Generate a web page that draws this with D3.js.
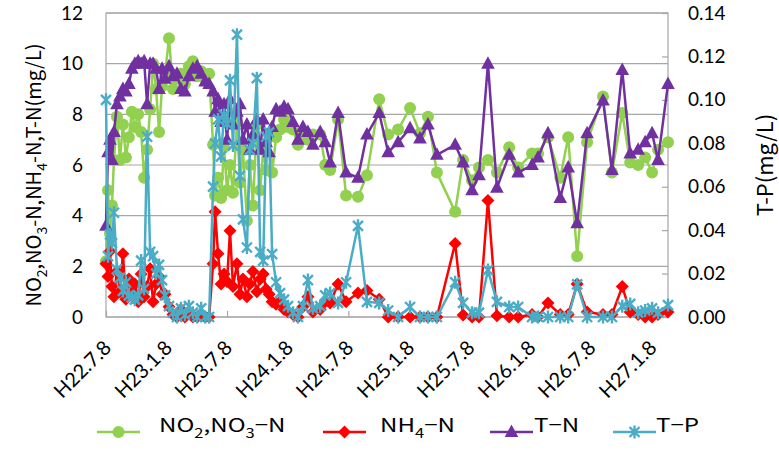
<!DOCTYPE html>
<html>
<head>
<meta charset="utf-8">
<script src="https://cdn.jsdelivr.net/npm/d3@7"></script>
<style>
  body { margin: 0; background: #fff; }
  svg { display: block; }
</style>
</head>
<body>
<div id="chart"></div>
<script>
// sampling dates (H22.7.8 .. H27.2)
const dates = [
  '2010-07-08', '2010-07-14', '2010-07-20', '2010-07-26', '2010-08-01', '2010-08-10', '2010-08-19', '2010-08-28',
  '2010-09-06', '2010-09-15', '2010-09-24', '2010-10-03', '2010-10-13', '2010-10-22', '2010-10-31', '2010-11-09',
  '2010-11-18', '2010-11-27', '2010-12-06', '2010-12-15', '2010-12-24', '2011-01-02', '2011-01-14', '2011-01-26',
  '2011-02-07', '2011-02-19', '2011-03-03', '2011-03-15', '2011-03-27', '2011-04-09', '2011-04-21', '2011-05-03',
  '2011-05-15', '2011-05-27', '2011-06-02', '2011-06-11', '2011-06-20', '2011-06-29', '2011-07-08', '2011-07-17',
  '2011-07-26', '2011-08-07', '2011-08-16', '2011-08-25', '2011-09-06', '2011-09-15', '2011-09-24', '2011-10-06',
  '2011-10-16', '2011-10-25', '2011-11-03', '2011-11-12', '2011-11-21', '2011-12-03', '2011-12-15', '2011-12-27',
  '2012-01-08', '2012-01-23', '2012-02-07', '2012-02-22', '2012-03-08', '2012-03-23', '2012-04-14', '2012-04-29',
  '2012-05-14', '2012-06-07', '2012-07-01', '2012-08-06', '2012-09-02', '2012-10-09', '2012-11-05', '2012-12-05',
  '2013-01-10', '2013-02-09', '2013-03-05', '2013-04-01', '2013-05-26', '2013-06-19', '2013-07-16', '2013-08-06',
  '2013-09-02', '2013-09-29', '2013-11-05', '2013-12-02', '2014-01-13', '2014-01-31', '2014-03-02', '2014-04-08',
  '2014-05-02', '2014-05-29', '2014-06-28', '2014-08-15', '2014-09-11', '2014-10-12', '2014-11-05', '2014-11-29',
  '2014-12-20', '2015-01-10', '2015-01-28', '2015-02-27'
]

// NO2,NO3-N (mg/L)
const no2no3N = [
  2.2, 5.0, 3.3, 4.4, 6.2, 7.9, 6.2, 7.6, 6.3, 7.1, 8.1, 7.5, 8.0, 7.3, 5.5, 6.6,
  8.2, 10.0, 9.0, 7.3, 9.1, 9.6, 11.0, 9.0, 9.4, 9.6, 9.2, 9.9, 10.1, 9.5, 9.7, 9.4,
  9.6, 6.8, 4.8, 5.5, 4.7, 6.7, 5.0, 6.0, 4.9, 7.7, 5.3, 6.6, 3.8, 6.0, 4.4, 7.6,
  5.0, 6.6, 5.8, 7.2, 5.7, 7.1, 7.4, 7.8, 7.5, 7.4, 6.8, 7.3, 7.0, 7.2, 7.2, 6.0,
  5.8, 7.8, 4.8, 4.75, 5.6, 8.6, 7.2, 7.4, 8.25, 7.25, 7.9, 5.7, 4.15, 6.2, 5.4, 5.9,
  6.2, 5.7, 6.7, 5.9, 6.45, 6.45, 7.1, 5.5, 7.1, 2.4, 6.9, 8.7, 5.7, 8.05, 6.1, 6.0,
  6.3, 5.7, 6.6, 6.9
]

// NH4-N (mg/L)
const nh4N = [
  2.1, 1.6, 2.6, 1.2, 0.8, 1.8, 1.0, 2.5, 0.7, 1.5, 0.9, 1.3, 0.6, 1.7, 0.8, 1.2,
  1.9, 0.6, 1.3, 1.6, 0.9, 0.9, 0.4, 0.1, 0.0, 0.3, 0.0, 0.2, 0.0, 0.0, 0.1, 0.0,
  0.0, 2.1, 4.15, 2.5, 1.3, 1.7, 1.4, 3.4, 1.2, 2.1, 0.9, 1.5, 0.8, 1.3, 1.8, 1.0,
  1.5, 1.7, 1.1, 0.9, 0.6, 0.5, 0.6, 0.3, 0.2, 0.1, 0.0, 0.4, 0.8, 0.2, 0.3, 0.6,
  0.55, 1.3, 0.6, 0.95, 1.05, 0.7, 0.0, 0.0, 0.0, 0.0, 0.0, 0.0, 2.9, 0.08, 0.0, 0.0,
  4.6, 0.05, 0.0, 0.0, 0.1, 0.0, 0.55, 0.1, 0.1, 1.3, 0.2, 0.1, 0.1, 1.2, 0.2, 0.1,
  0.0, 0.0, 0.1, 0.2
]

// T-N (mg/L)
const tN = [
  3.6, 6.5, 7.0, 6.2, 7.3, 8.4, 8.7, 9.0, 8.9, 9.2, 9.8, 10.0, 10.1, 10.0, 10.1, 8.4,
  10.0, 10.0, 9.8, 9.0, 9.8, 9.4, 9.9, 9.5, 9.6, 9.0, 8.9, 9.5, 9.8, 9.9, 9.6, 9.3,
  9.2, 8.9, 8.1, 8.6, 7.7, 8.4, 7.0, 8.6, 7.6, 8.1, 8.4, 7.0, 7.6, 6.6, 7.2, 7.8,
  6.6, 7.8, 6.9, 6.5, 7.5, 8.2, 8.1, 8.3, 8.2, 7.7, 7.0, 7.5, 7.3, 6.8, 7.3, 6.9,
  6.1, 8.05, 5.7, 5.5, 7.2, 8.05, 6.5, 6.9, 7.45, 7.05, 7.6, 6.4, 6.8, 6.1, 5.0, 5.6,
  10.0, 5.1, 6.4, 5.7, 6.0, 6.3, 7.25, 4.7, 5.9, 3.7, 7.25, 8.55, 5.8, 9.75, 6.45, 6.6,
  6.9, 7.25, 6.2, 9.2
]

// T-P (mg/L, right axis)
const tP = [
  0.100, 0.028, 0.038, 0.034, 0.048, 0.022, 0.018, 0.012, 0.016, 0.010, 0.009, 0.008, 0.010, 0.026, 0.013, 0.083,
  0.030, 0.028, 0.020, 0.024, 0.017, 0.010, 0.005, 0.002, 0.000, 0.004, 0.001, 0.005, 0.002, 0.000, 0.004, 0.000,
  0.000, 0.060, 0.080, 0.091, 0.074, 0.093, 0.089, 0.109, 0.079, 0.130, 0.065, 0.045, 0.032, 0.077, 0.080, 0.110,
  0.030, 0.026, 0.083, 0.085, 0.029, 0.016, 0.011, 0.008, 0.005, 0.002, 0.000, 0.005, 0.017, 0.004, 0.005, 0.010,
  0.011, 0.0065, 0.016, 0.042, 0.007, 0.0065, 0.003, 0.000, 0.0046, 0.000, 0.000, 0.000, 0.016, 0.0065, 0.002, 0.002,
  0.0216, 0.007, 0.0046, 0.0046, 0.000, 0.000, 0.000, 0.000, 0.000, 0.015, 0.000, 0.000, 0.000, 0.005, 0.006, 0.002,
  0.003, 0.004, 0.002, 0.0055
]

const xLabels = ['H22.7.8', 'H23.1.8', 'H23.7.8', 'H24.1.8', 'H24.7.8', 'H25.1.8', 'H25.7.8', 'H26.1.8', 'H26.7.8', 'H27.1.8']
const xLabelDates = ['2010-07-08', '2011-01-08', '2011-07-08', '2012-01-08', '2012-07-08', '2013-01-08', '2013-07-08', '2014-01-08', '2014-07-08', '2015-01-08']
const xTickDates = ['2010-07-08', '2011-07-08', '2012-07-08', '2013-07-08', '2014-07-08']
const xDomain = ['2010-07-08', '2015-02-27']
const leftTicks = [0, 2, 4, 6, 8, 10, 12]
const rightTicks = [0, 0.02, 0.04, 0.06, 0.08, 0.10, 0.12, 0.14]

const parseTime = d3.timeParse('%Y-%m-%d')
const margin = {top: 13, right: 111, bottom: 133, left: 106},
  width = 562,
  height = 304

const svg = d3.select('#chart').append('svg')
  .attr('width', 779)
  .attr('height', 450)

const xScale = d3.scaleTime()
  .domain(xDomain.map(parseTime))
  .range([0, width])
const yLeft = d3.scaleLinear().domain([0, 12]).range([height, 0])
const yRight = d3.scaleLinear().domain([0, 0.14]).range([height, 0])

const g = svg.append('g')
  .attr('transform', `translate(${margin.left}, ${margin.top})`)

const gridColor = '#a6a6a6'
const tickFont = 'Lato, "Open Sans", sans-serif'
const titleFont = '"Noto Sans CJK JP", "Noto Sans", sans-serif'

// gridlines
g.selectAll('.grid').data(leftTicks)
  .enter().append('line')
  .attr('x1', 0).attr('x2', width)
  .attr('y1', d => yLeft(d)).attr('y2', d => yLeft(d))
  .attr('stroke', gridColor).attr('stroke-width', 1.2)

// plot border
g.append('rect')
  .attr('width', width).attr('height', height)
  .attr('fill', 'none').attr('stroke', gridColor).attr('stroke-width', 1.2)

// x tick marks (inside, yearly)
g.append('g')
  .attr('transform', `translate(0, ${height})`)
  .call(d3.axisTop(xScale).tickValues(xTickDates.map(parseTime)).tickSize(6).tickFormat(''))
  .call(a => a.select('.domain').remove())
  .selectAll('line').attr('stroke', gridColor).attr('stroke-width', 1.2)

// x labels
const xAxis = d3.axisBottom(xScale)
  .tickValues(xLabelDates.map(parseTime))
  .tickSize(0)
  .tickFormat((d, i) => xLabels[i])
g.append('g')
  .attr('transform', `translate(0, ${height})`)
  .call(xAxis)
  .call(a => a.select('.domain').remove())
  .selectAll('text')
  .attr('x', 0).attr('y', 0).attr('dy', '0.35em')
  .attr('transform', 'translate(1, 27) rotate(-45)')
  .style('text-anchor', 'end')
  .style('font-family', tickFont)
  .style('font-size', '20px')
  .attr('fill', '#000')

// left axis labels
g.append('g')
  .call(d3.axisLeft(yLeft).tickValues(leftTicks).tickSize(0).tickPadding(23).tickFormat(d3.format('d')))
  .call(a => a.select('.domain').remove())
  .selectAll('text')
  .style('font-family', tickFont)
  .style('font-size', '19px')
  .attr('fill', '#000')

// right axis: inner ticks + labels
g.append('g')
  .attr('transform', `translate(${width}, 0)`)
  .call(d3.axisLeft(yRight).tickValues(rightTicks).tickSize(6).tickFormat(''))
  .call(a => a.select('.domain').remove())
  .selectAll('line').attr('stroke', gridColor).attr('stroke-width', 1.2)
g.append('g')
  .attr('transform', `translate(${width}, 0)`)
  .call(d3.axisRight(yRight).tickValues(rightTicks).tickSize(0).tickPadding(20).tickFormat(d3.format('.2f')))
  .call(a => a.select('.domain').remove())
  .selectAll('text')
  .style('font-family', tickFont)
  .style('font-size', '19px')
  .attr('fill', '#000')

// axis titles
const leftTitle = svg.append('text')
  .attr('transform', 'translate(41, 175) rotate(-90)')
  .attr('text-anchor', 'middle')
  .style('font-family', titleFont)
  .style('font-size', '20px')
  .attr('fill', '#000')
const titleParts = [['NO', 0], ['2', 1], [',NO', 0], ['3', 1], ['-N,NH', 0], ['4', 1], ['-N,T-N(mg/L)', 0]]
titleParts.forEach(([t, sub], i) => {
  const prevSub = i > 0 ? titleParts[i - 1][1] : 0
  const dy = sub && !prevSub ? 6 : (!sub && prevSub ? -6 : 0)
  leftTitle.append('tspan')
    .attr('dy', dy)
    .style('font-size', sub ? '14px' : '20px')
    .text(t)
})

svg.append('text')
  .attr('transform', 'translate(773, 165) rotate(-90)')
  .attr('text-anchor', 'middle')
  .style('font-family', titleFont)
  .style('font-size', '22px')
  .attr('fill', '#000')
  .text('T-P(mg/L)')

// series
const series = [
  {name: 'NO2,NO3-N', values: no2no3N, color: '#92d050', marker: 'circle', y: yLeft},
  {name: 'NH4-N', values: nh4N, color: '#ff0000', marker: 'diamond', y: yLeft},
  {name: 'T-N', values: tN, color: '#7030a0', marker: 'triangle', y: yLeft},
  {name: 'T-P', values: tP, color: '#4bacc6', marker: 'star', y: yRight}
]
const parsedDates = dates.map(parseTime)

function drawMarker(sel, type, color) {
  if (type === 'circle') {
    sel.append('circle').attr('r', 6).attr('fill', color)
  } else if (type === 'diamond') {
    sel.append('path').attr('d', 'M0,-6.5L6.5,0L0,6.5L-6.5,0Z').attr('fill', color)
  } else if (type === 'triangle') {
    sel.append('path').attr('d', 'M0,-7.5L6.8,5L-6.8,5Z').attr('fill', color)
  } else {
    sel.append('path').attr('d', 'M-5,-5L5,5M-5,5L5,-5M0,-6.5L0,6.5')
      .attr('stroke', color).attr('stroke-width', 2.4).attr('fill', 'none')
  }
}

series.forEach(s => {
  const pts = s.values.map((v, i) => ({date: parsedDates[i], value: v}))
  const line = d3.line().x(d => xScale(d.date)).y(d => s.y(d.value))
  g.append('path')
    .datum(pts)
    .attr('d', line)
    .attr('fill', 'none')
    .attr('stroke', s.color)
    .attr('stroke-width', 2.5)
    .attr('stroke-linejoin', 'round')
  g.selectAll(null).data(pts)
    .enter().append('g')
    .attr('transform', d => `translate(${xScale(d.date)}, ${s.y(d.value)})`)
    .each(function () { drawMarker(d3.select(this), s.marker, s.color) })
})

// legend
const legendY = 432
const legendItems = [
  {x: 97, textX: 159, parts: [['NO', 0], ['2', 1], [',NO', 0], ['3', 1], ['−N', 0]]},
  {x: 323, textX: 380, parts: [['NH', 0], ['4', 1], ['−N', 0]]},
  {x: 490, textX: 534, parts: [['T−N', 0]]},
  {x: 613, textX: 656, parts: [['T−P', 0]]}
]
legendItems.forEach((item, i) => {
  const s = series[i]
  const lg = svg.append('g')
  lg.append('line')
    .attr('x1', item.x).attr('x2', item.x + 43)
    .attr('y1', legendY).attr('y2', legendY)
    .attr('stroke', s.color).attr('stroke-width', 2.5)
  drawMarker(lg.append('g').attr('transform', `translate(${item.x + 21.5}, ${legendY})`), s.marker, s.color)
  // legend text is drawn a little wide, as in the source picture
  const t = lg.append('text')
    .attr('transform', `translate(${item.textX}, ${legendY}) scale(1.27, 1)`)
    .attr('dy', '0.36em')
    .style('font-family', titleFont)
    .style('font-size', '19px')
    .attr('fill', '#000')
  item.parts.forEach(([txt, sub], j) => {
    const prevSub = j > 0 ? item.parts[j - 1][1] : 0
    const dy = sub && !prevSub ? 6 : (!sub && prevSub ? -6 : 0)
    t.append('tspan').attr('dy', dy).style('font-size', sub ? '13px' : '19px').text(txt)
  })
})
</script>
</body>
</html>
